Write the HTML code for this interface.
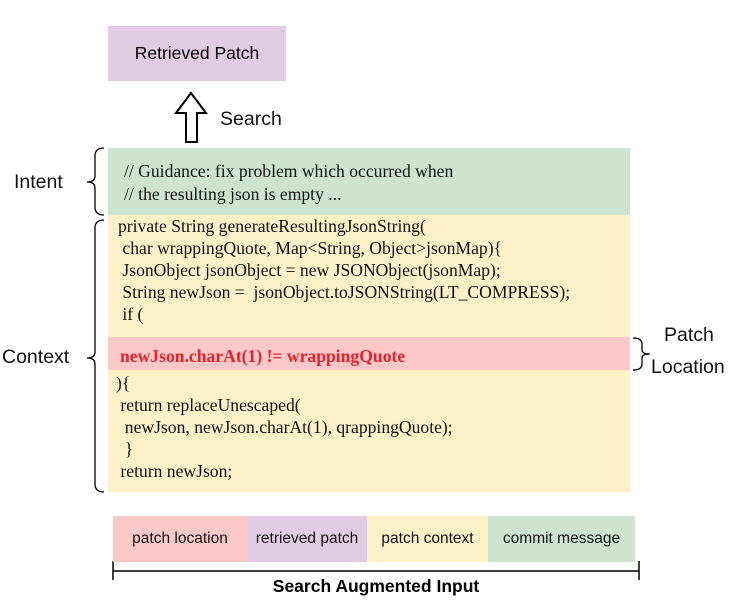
<!DOCTYPE html>
<html><head><style>
body{margin:0;width:731px;height:604px;background:#fff;position:relative;overflow:hidden;font-family:"Liberation Sans",sans-serif;}
.a{position:absolute;}
.code{font-family:"Liberation Serif",serif;font-size:17.6px;color:#111;white-space:pre;line-height:22px;}
.lab{font-size:19.5px;color:#111;}
</style></head><body>
<div class="a" style="left:108px;top:26px;width:178px;height:55px;background:#e1cce3;display:flex;align-items:center;justify-content:center;font-size:17.5px;">Retrieved Patch</div>
<svg class="a" style="left:0;top:0" width="731" height="604">
<polygon points="191,93 176,113 186,113 186,142 197,142 197,113 206,113" fill="#fff" stroke="#000" stroke-width="2"/>
<g fill="none" stroke="#000" stroke-width="1.3">
<path d="M104,148 Q95,148 95,156 L95,176 Q95,182 87,182 Q95,182 95,188 L95,207 Q95,215 104,215"/>
<path d="M104,220 Q95,220 95,228 L95,352 Q95,358 87,358 Q95,358 95,364 L95,484 Q95,492 104,492"/>
<path d="M633,338 Q642,338 642,344 L642,350 Q642,354 650,354 Q642,354 642,358 L642,364 Q642,370 633,370"/>
<path d="M113,561 L113,580 M113,571 L639,571 M639,561 L639,580" stroke-width="1.5"/>
</g>
</svg>
<div class="a lab" style="left:220px;top:108px;">Search</div>
<div class="a lab" style="left:14px;top:171px;">Intent</div>
<div class="a lab" style="left:2px;top:346px;">Context</div>
<div class="a lab" style="left:664px;top:324px;">Patch</div>
<div class="a lab" style="left:651px;top:356px;">Location</div>
<div class="a" style="left:108px;top:148px;width:522px;height:67px;background:#cde5d0;"></div>
<div class="a" style="left:108px;top:215px;width:522px;height:122px;background:#fff1c7;"></div>
<div class="a" style="left:108px;top:337px;width:522px;height:33px;background:#fdc8c8;"></div>
<div class="a" style="left:108px;top:370px;width:522px;height:122px;background:#fff1c7;"></div>
<div class="a code" style="left:124px;top:160px;line-height:23px;">// Guidance: fix problem which occurred when
// the resulting json is empty ...</div>
<div class="a code" style="left:118px;top:215px;">private String generateResultingJsonString(
 char wrappingQuote, Map&lt;String, Object&gt;jsonMap){
 JsonObject jsonObject = new JSONObject(jsonMap);
 String newJson =  jsonObject.toJSONString(LT_COMPRESS);
 if (</div>
<div class="a code" style="left:120px;top:345px;color:#e8212a;font-weight:bold;">newJson.charAt(1) != wrappingQuote</div>
<div class="a code" style="left:116px;top:372px;">){
 return replaceUnescaped(
  newJson, newJson.charAt(1), qrappingQuote);
  }
 return newJson;</div>
<div class="a" style="left:113px;top:516px;width:522px;height:46px;display:flex;font-size:15.5px;color:#111;">
<div style="width:134px;background:#fdc8c8;display:flex;align-items:center;justify-content:center;">patch location</div>
<div style="width:120px;background:#e1cce3;display:flex;align-items:center;justify-content:center;">retrieved patch</div>
<div style="width:121px;background:#fff1c7;display:flex;align-items:center;justify-content:center;">patch context</div>
<div style="width:147px;background:#cde5d0;display:flex;align-items:center;justify-content:center;">commit message</div>
</div>
<div class="a" style="left:113px;top:576px;width:526px;text-align:center;font-weight:bold;font-size:17.5px;">Search Augmented Input</div>
</body></html>
